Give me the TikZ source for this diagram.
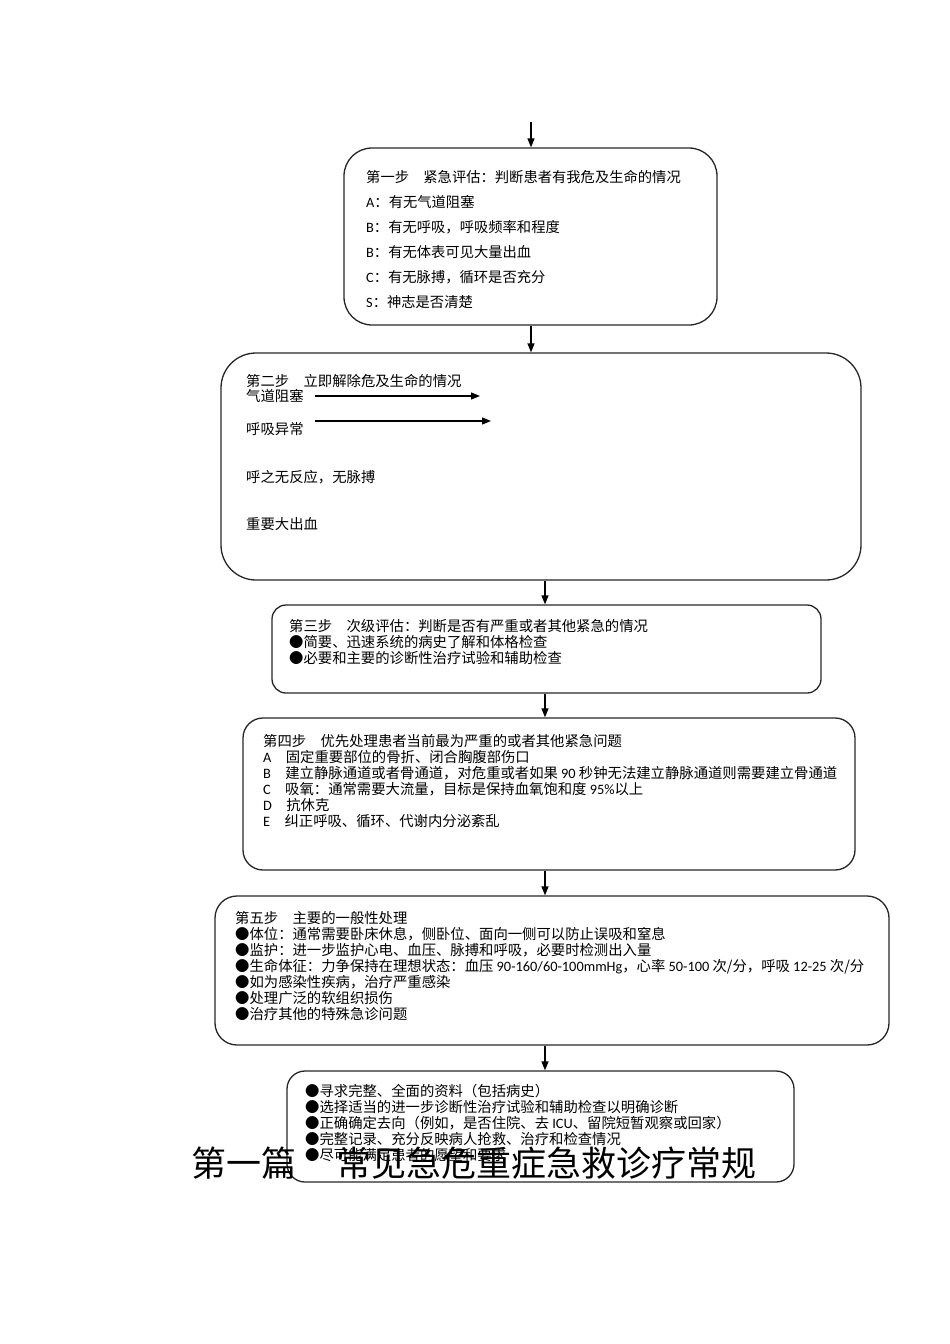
\documentclass[tikz,border=0pt]{standalone}
\usepackage{fontspec}
\setmainfont{Noto Sans CJK SC}
\newfontfamily\enfont{Carlito}
\newcommand{\en}[1]{{\enfont #1}}
\usepackage{tikz}
\usetikzlibrary{arrows.meta}
\pgfdeclarelayer{bg}
\pgfsetlayers{bg,main}
\tikzset{
        stepbox/.style={draw=black!85, line width=1.3pt, inner sep=0pt, rectangle},
        txt/.style={inner sep=0pt, align=left, anchor=north west, font=\fontsize{14.35}{16}\selectfont},
        line/.style={inner sep=0pt, anchor=west, font=\fontsize{14.35}{16}\selectfont},
        flow/.style={-{Triangle[length=9pt,width=7pt]}, line width=1.3pt},
}

\begin{document}
\begin{tikzpicture}[x=1pt, y=-1pt]
        \useasboundingbox (0,0) rectangle (950,1344);
        \node (s1) [stepbox, rounded corners=28pt, minimum width=373pt, minimum height=177pt] at (530.5, 236.5) {};
        \node (s2) [stepbox, rounded corners=35pt, minimum width=640pt, minimum height=227pt] at (541, 466.5) {};
        \node (s3) [stepbox, rounded corners=14pt, minimum width=549pt, minimum height=88pt] at (546.5, 649) {};
        \node (s4) [stepbox, rounded corners=20pt, minimum width=612pt, minimum height=152pt] at (549, 794) {};
        \node (s5) [stepbox, rounded corners=22pt, minimum width=674pt, minimum height=149pt] at (552, 970.5) {};
        \node (s6) [stepbox, rounded corners=18pt, minimum width=507pt, minimum height=111pt] at (540.5, 1126.5) {};
        \node (t1) [txt, font=\fontsize{14.3}{25}\selectfont] at (366, 170.5) {第一步\quad 紧急评估：判断患者有我危及生命的情况\\
                \en{A}：有无气道阻塞\\
                \en{B}：有无呼吸，呼吸频率和程度\\
                \en{B}：有无体表可见大量出血\\
                \en{C}：有无脉搏，循环是否充分\\
                \en{S}：神志是否清楚};
        \node (t2) [line] at (246, 381) {第二步\quad 立即解除危及生命的情况};
        \node (qd) [line] at (246, 396) {气道阻塞};
        \node (hx) [line] at (246, 429) {呼吸异常};
        \node (wf) [line] at (246, 477) {呼之无反应，无脉搏};
        \node (dc) [line] at (246, 524) {重要大出血};
        \node (t3) [txt] at (289, 619) {第三步\quad 次级评估：判断是否有严重或者其他紧急的情况\\
                ●简要、迅速系统的病史了解和体格检查\\
                ●必要和主要的诊断性治疗试验和辅助检查};
        \node (t4) [txt] at (263, 734) {第四步\quad 优先处理患者当前最为严重的或者其他紧急问题\\
                \en{A}\quad 固定重要部位的骨折、闭合胸腹部伤口\\
                \en{B}\quad 建立静脉通道或者骨通道，对危重或者如果 \en{90} 秒钟无法建立静脉通道则需要建立骨通道\\
                \en{C}\quad 吸氧：通常需要大流量，目标是保持血氧饱和度 \en{95\%}以上\\
                \en{D}\quad 抗休克\\
                \en{E}\quad 纠正呼吸、循环、代谢内分泌紊乱};
        \node (t5) [txt] at (235, 911) {第五步\quad 主要的一般性处理\\
                ●体位：通常需要卧床休息，侧卧位、面向一侧可以防止误吸和窒息\\
                ●监护：进一步监护心电、血压、脉搏和呼吸，必要时检测出入量\\
                ●生命体征：力争保持在理想状态：血压 \en{90-160/60-100mmHg}，心率 \en{50-100} 次/分，呼吸 \en{12-25} 次/分\\
                ●如为感染性疾病，治疗严重感染\\
                ●处理广泛的软组织损伤\\
                ●治疗其他的特殊急诊问题};
        \node (t6) [txt] at (305, 1084) {●寻求完整、全面的资料（包括病史）\\
                ●选择适当的进一步诊断性治疗试验和辅助检查以明确诊断\\
                ●正确确定去向（例如，是否住院、去 \en{ICU}、留院短暂观察或回家）\\
                ●完整记录、充分反映病人抢救、治疗和检查情况\\
                ●尽可能满足患者的愿望和要求};
        \node (title) [inner sep=0pt, font=\fontsize{35}{40}\selectfont] at (474, 1163) {第一篇\hspace{40pt}常见急危重症急救诊疗常规};
        \coordinate (in) at (531, 122);
        \coordinate (ax) at (545, 0);
        \coordinate (a1) at (315, 396);
        \coordinate (a1e) at (480, 396);
        \coordinate (a2) at (315, 421);
        \coordinate (a2e) at (491, 421);
        \begin{pgfonlayer}{bg}
                \draw (in) edge [flow] (s1.north -| in);
                \draw (s1.south -| in) edge [flow] (s2.north -| in);
                \draw (s2.south -| ax) edge [flow] (s3.north -| ax);
                \draw (s3.south -| ax) edge [flow] (s4.north -| ax);
                \draw (s4.south -| ax) edge [flow] (s5.north -| ax);
                \draw (s5.south -| ax) edge [flow] (s6.north -| ax);
                \draw (a1) edge [flow] (a1e);
                \draw (a2) edge [flow] (a2e);
        \end{pgfonlayer}
\end{tikzpicture}
\end{document}
